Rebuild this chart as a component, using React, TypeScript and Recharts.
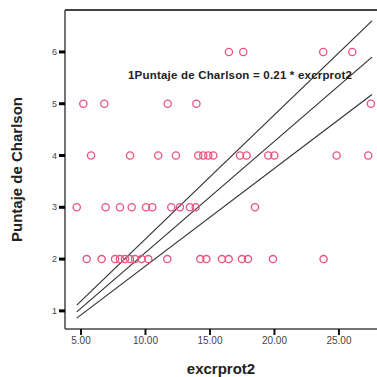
import React from 'react';
import { ComposedChart, Scatter, Line, XAxis, YAxis, ReferenceLine, Label } from 'recharts';

// Scatter values: excrprot2 (x) per Charlson score level (y)
const charlson6 = [16.47, 17.58, 23.78, 26.03];
const charlson5 = [5.18, 6.81, 11.72, 13.95, 27.48];
const charlson4 = [5.78, 8.8, 10.99, 12.36, 14.09, 14.48, 14.87, 15.26, 17.33, 17.84, 19.52, 19.99, 24.82, 27.27];
const charlson3 = [4.67, 6.91, 8.02, 8.93, 10.04, 10.53, 12.0, 12.67, 13.45, 13.89, 18.49];
const charlson2 = [5.44, 6.6, 7.64, 8.02, 8.41, 8.8, 9.19, 9.7, 10.22, 11.69, 14.25, 14.72, 15.93, 16.45, 17.48, 17.95, 19.88, 23.81];

// Fit line and confidence bands (endpoints)
const lineX = [4.67, 27.56];
const upperY = [1.11, 6.6];
const fitY = [0.98, 5.9];
const lowerY = [0.86, 5.18];

const xTicks = [5, 10, 15, 20, 25];
const yTicks = [1, 2, 3, 4, 5, 6];
const xDomain = [3.76, 27.95];
const yDomain = [0.65, 6.81];

const groups: [number, number[]][] = [
  [6, charlson6],
  [5, charlson5],
  [4, charlson4],
  [3, charlson3],
  [2, charlson2],
];
const points = groups.flatMap(([y, xs]) => xs.map((x) => ({ x, y })));

const mkLine = (ys: number[]) => lineX.map((x, i) => ({ x, y: ys[i] }));
const upperData = mkLine(upperY);
const fitData = mkLine(fitY);
const lowerData = mkLine(lowerY);

const PINK = '#e9547f';

const Ring = (props: any) => {
  const { cx, cy } = props;
  if (cx == null || cy == null) return null;
  return <circle cx={cx} cy={cy} r={3.6} fill="none" stroke={PINK} strokeWidth={1.3} />;
};

const FONT = '"Liberation Sans", Arial, sans-serif';

export default function App() {
  return (
    <div style={{ position: 'absolute', left: 0, top: 0, width: 377, height: 377, background: '#fff', fontFamily: FONT }}>
      <ComposedChart width={377} height={377} margin={{ top: 10, right: 0, bottom: 0, left: 0 }}>
        <XAxis
          type="number"
          dataKey="x"
          domain={xDomain}
          ticks={xTicks}
          allowDataOverflow
          tickFormatter={(v: number) => v.toFixed(2)}
          height={48}
          stroke="#333"
          axisLine={{ stroke: '#444', strokeWidth: 1.5 }}
          tickLine={{ stroke: '#111', strokeWidth: 2 }}
          tickSize={6}
          tick={{ fill: '#444', fontSize: 10, fontFamily: FONT }}
        >
          <Label value="excrprot2" position="insideBottom" offset={3} style={{ fontSize: 15, fontWeight: 'bold', fill: '#222', fontFamily: FONT }} />
        </XAxis>
        <YAxis
          type="number"
          dataKey="y"
          domain={yDomain}
          ticks={yTicks}
          allowDataOverflow
          width={65}
          axisLine={{ stroke: '#444', strokeWidth: 1.5 }}
          tickLine={{ stroke: '#000', strokeWidth: 3 }}
          tickSize={6}
          tick={{ fill: '#444', fontSize: 9, fontFamily: FONT }}
        >
          <Label
            value="Puntaje de Charlson"
            angle={-90}
            position="insideLeft"
            offset={17}
            style={{ fontSize: 15, fontWeight: 'bold', fill: '#222', fontFamily: FONT, textAnchor: 'middle' }}
          />
        </YAxis>
        <ReferenceLine y={yDomain[1]} stroke="#444" strokeWidth={2} ifOverflow="extendDomain" />
        <Scatter data={points} shape={<Ring />} isAnimationActive={false} />
        <Line data={upperData} dataKey="y" stroke="#333" strokeWidth={1.2} dot={false} isAnimationActive={false} />
        <Line data={fitData} dataKey="y" stroke="#333" strokeWidth={1.2} dot={false} isAnimationActive={false} />
        <Line data={lowerData} dataKey="y" stroke="#333" strokeWidth={1.2} dot={false} isAnimationActive={false} />
      </ComposedChart>
      <div
        style={{
          position: 'absolute',
          left: 128,
          top: 69,
          fontSize: 11.5,
          letterSpacing: 0.2,
          fontWeight: 'bold',
          color: '#222',
          fontFamily: FONT,
          whiteSpace: 'nowrap',
        }}
      >
        1Puntaje de Charlson = 0.21 * excrprot2
      </div>
    </div>
  );
}
